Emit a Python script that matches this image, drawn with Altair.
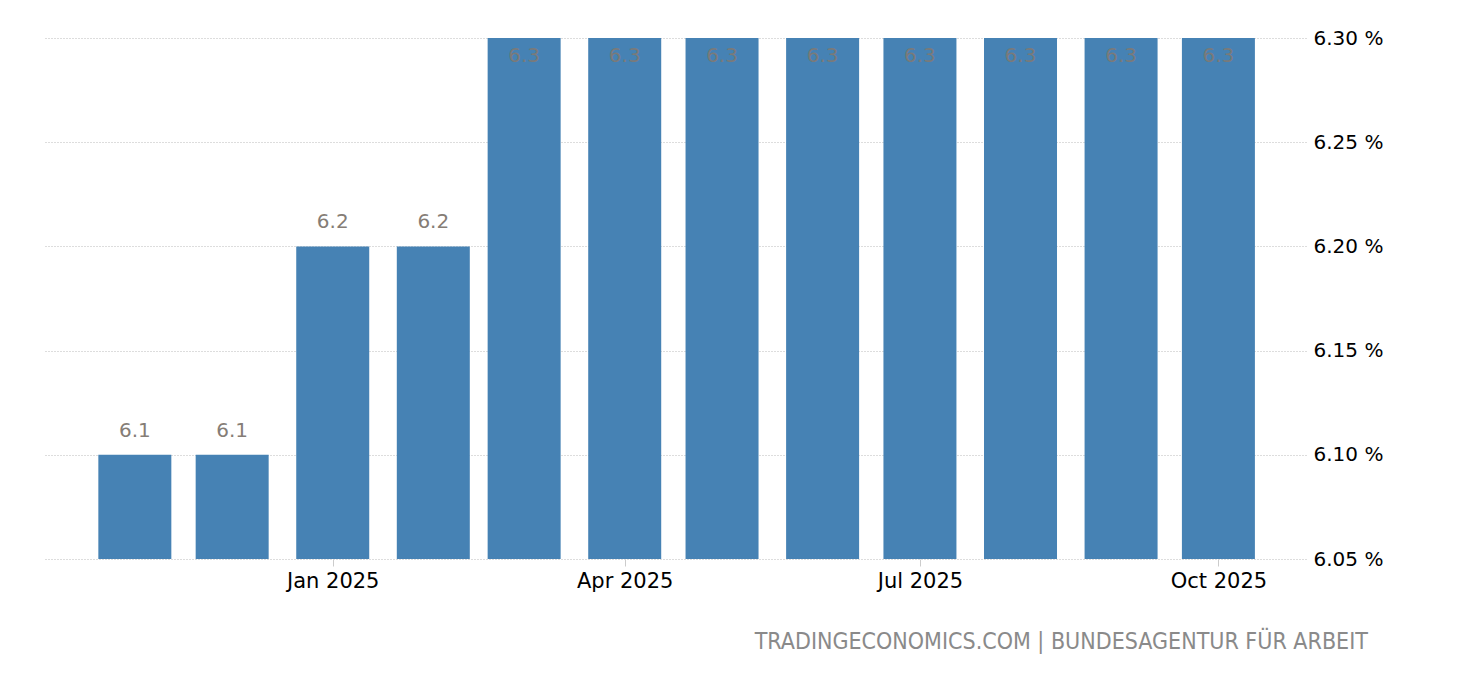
import altair as alt
import pandas as pd

months = ["2024-11-01", "2024-12-01", "2025-01-01", "2025-02-01", "2025-03-01", "2025-04-01",
          "2025-05-01", "2025-06-01", "2025-07-01", "2025-08-01", "2025-09-01", "2025-10-01"]
values = [6.1, 6.1, 6.2, 6.2, 6.3, 6.3, 6.3, 6.3, 6.3, 6.3, 6.3, 6.3]
y_ticks = [6.05, 6.10, 6.15, 6.20, 6.25, 6.30]
x_ticks = [(2025, 1), (2025, 4), (2025, 7), (2025, 10)]
source_text = "TRADINGECONOMICS.COM | BUNDESAGENTUR FÜR ARBEIT"

df = pd.DataFrame({"date": months, "value": values})

FONT = "DejaVu Sans"

x = alt.X(
    "date:T",
    scale=alt.Scale(
        type="utc",
        domain=[alt.DateTime(year=2024, month=10, date=4, utc=True),
                alt.DateTime(year=2025, month=10, date=28, utc=True)],
        padding=0,
        nice=False,
    ),
    axis=alt.Axis(
        title=None,
        values=[alt.DateTime(year=yy, month=mm, date=1, utc=True) for yy, mm in x_ticks],
        labelExpr="utcFormat(datum.value, '%b %Y')",
        domain=False,
        grid=False,
        ticks=True,
        tickSize=7,
        tickColor="#cccccc",
        labelFont=FONT,
        labelFontSize=21,
        labelColor="#000000",
        labelPadding=4,
    ),
)

y = alt.Y(
    "value:Q",
    scale=alt.Scale(domain=[y_ticks[0], y_ticks[-1]], zero=False, nice=False),
    axis=alt.Axis(
        title=None,
        orient="right",
        values=y_ticks,
        labelExpr="format(datum.value, '.2f') + ' %'",
        domain=False,
        ticks=False,
        grid=True,
        gridColor="#bbbbbb",
        gridDash=[1, 2],
        labelFont=FONT,
        labelFontSize=20,
        labelColor="#000000",
        labelPadding=7,
    ),
)

base = alt.Chart(df)

bars = base.mark_bar(color="#4682b4", size=73, clip=True).encode(x=x, y=y)

labels_above = base.transform_filter(f"datum.value < {y_ticks[-1]}").mark_text(
    baseline="bottom", dy=-14, font=FONT, fontSize=20, color="#857d76"
).encode(x=x, y=y, text=alt.Text("value:Q", format=".1f"))

labels_inside = base.transform_filter(f"datum.value >= {y_ticks[-1]}").mark_text(
    baseline="top", dy=8, font=FONT, fontSize=20, color="#7a7a7a"
).encode(x=x, y=y, text=alt.Text("value:Q", format=".1f"))

chart = (
    alt.layer(bars, labels_above, labels_inside)
    .properties(
        width=1262,
        height=521,
        padding={"left": 36, "top": 20, "right": 10, "bottom": 10},
        title=alt.TitleParams(
            text=source_text,
            orient="bottom",
            anchor="end",
            frame="bounds",
            dx=-15,
            offset=40,
            font="DejaVu Sans Condensed, Liberation Sans Narrow, sans-serif",
            fontSize=23,
            fontWeight="normal",
            color="#8a8a8a",
        ),
    )
    .configure_view(stroke=None)
)

chart.save("out.html", embed_options={"renderer": "svg", "actions": False})
